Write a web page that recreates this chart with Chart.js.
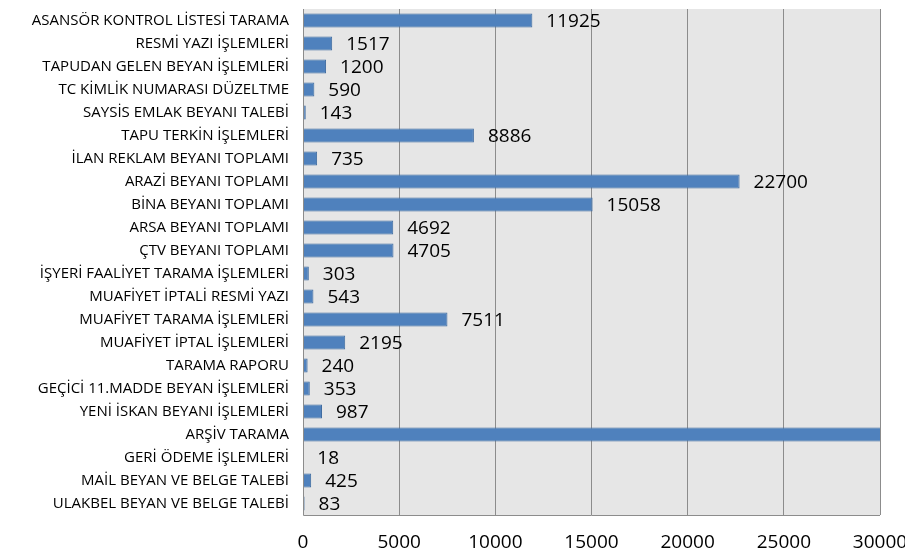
<!DOCTYPE html>
<html>
<head>
<meta charset="utf-8">
<script src="https://cdn.jsdelivr.net/npm/chart.js@4/dist/chart.umd.min.js"></script>
<style>
html,body{margin:0;padding:0;background:#fff;overflow:hidden;}
#wrap{position:relative;width:905px;height:548px;}
</style>
</head>
<body>
<div id="wrap"><canvas id="c" width="905" height="548"></canvas></div>
<script>
const categories = [
  "ASANSÖR KONTROL LİSTESİ TARAMA",
  "RESMİ YAZI İŞLEMLERİ",
  "TAPUDAN GELEN BEYAN İŞLEMLERİ",
  "TC KİMLİK NUMARASI DÜZELTME",
  "SAYSİS EMLAK BEYANI TALEBİ",
  "TAPU TERKİN İŞLEMLERİ",
  "İLAN REKLAM BEYANI TOPLAMI",
  "ARAZİ BEYANI TOPLAMI",
  "BİNA BEYANI TOPLAMI",
  "ARSA BEYANI TOPLAMI",
  "ÇTV BEYANI TOPLAMI",
  "İŞYERİ FAALİYET TARAMA İŞLEMLERİ",
  "MUAFİYET İPTALİ RESMİ YAZI",
  "MUAFİYET TARAMA İŞLEMLERİ",
  "MUAFİYET İPTAL İŞLEMLERİ",
  "TARAMA RAPORU",
  "GEÇİCİ 11.MADDE BEYAN İŞLEMLERİ",
  "YENİ İSKAN BEYANI İŞLEMLERİ",
  "ARŞİV TARAMA",
  "GERİ ÖDEME İŞLEMLERİ",
  "MAİL BEYAN VE BELGE TALEBİ",
  "ULAKBEL BEYAN VE BELGE TALEBİ"
];
const values = [11925, 1517, 1200, 590, 143, 8886, 735, 22700, 15058, 4692, 4705, 303, 543, 7511, 2195, 240, 353, 987, 32000, 18, 425, 83];
const xTicks = [0, 5000, 10000, 15000, 20000, 25000, 30000];

const plotBg = {
  id: 'plotBg',
  beforeDraw(chart) {
    const {ctx, chartArea: a} = chart;
    ctx.save();
    ctx.fillStyle = '#e6e6e6';
    ctx.fillRect(a.left, a.top, a.right - a.left, a.bottom - a.top);
    ctx.restore();
  },
  afterDatasetsDraw(chart) {
    const {ctx, chartArea: a} = chart;
    ctx.save();
    ctx.strokeStyle = '#8c8c8c';
    ctx.lineWidth = 1;
    ctx.beginPath();
    ctx.moveTo(a.left + 0.5, a.top);
    ctx.lineTo(a.left + 0.5, a.bottom + 0.5);
    ctx.lineTo(a.right, a.bottom + 0.5);
    ctx.stroke();
    const meta = chart.getDatasetMeta(0);
    const max = chart.scales.x.max;
    ctx.fillStyle = '#000';
    ctx.font = '19px "Open Sans"';
    ctx.textBaseline = 'middle';
    ctx.textAlign = 'left';
    meta.data.forEach((bar, i) => {
      const v = chart.data.datasets[0].data[i];
      if (v >= max) return;
      ctx.fillText(String(v), bar.x + 14, bar.y + 1);
    });
    ctx.restore();
  }
};

new Chart(document.getElementById('c'), {
  type: 'bar',
  data: {
    labels: categories,
    datasets: [{
      data: values,
      backgroundColor: '#4f81bd',
      borderColor: '#3d6a9f',
      borderWidth: 1,
      barPercentage: 0.61,
      categoryPercentage: 1
    }]
  },
  options: {
    indexAxis: 'y',
    responsive: false,
    animation: false,
    layout: {padding: {top: 9, left: 0, right: 0, bottom: 0}},
    plugins: {legend: {display: false}, tooltip: {enabled: false}},
    scales: {
      x: {
        min: 0, max: 30000,
        afterBuildTicks(scale) { scale.ticks = xTicks.map(v => ({value: v})); },
        grid: {color: '#8c8c8c', drawTicks: false, lineWidth: 1},
        border: {display: false},
        ticks: {color: '#000', font: {family: 'Open Sans', size: 19}, padding: 16, maxRotation: 0,
                callback: (v) => String(v)},
        afterFit(scale) { scale.height = 33; scale.paddingLeft = 0; scale.paddingRight = 25; }
      },
      y: {
        grid: {display: false, drawTicks: false},
        border: {display: false},
        ticks: {color: '#000', font: {family: 'Open Sans', size: 15}, padding: 14, autoSkip: false},
        afterFit(scale) { scale.width = 303; scale.paddingTop = 0; scale.paddingBottom = 0; }
      }
    }
  },
  plugins: [plotBg]
});
</script>
</body>
</html>
